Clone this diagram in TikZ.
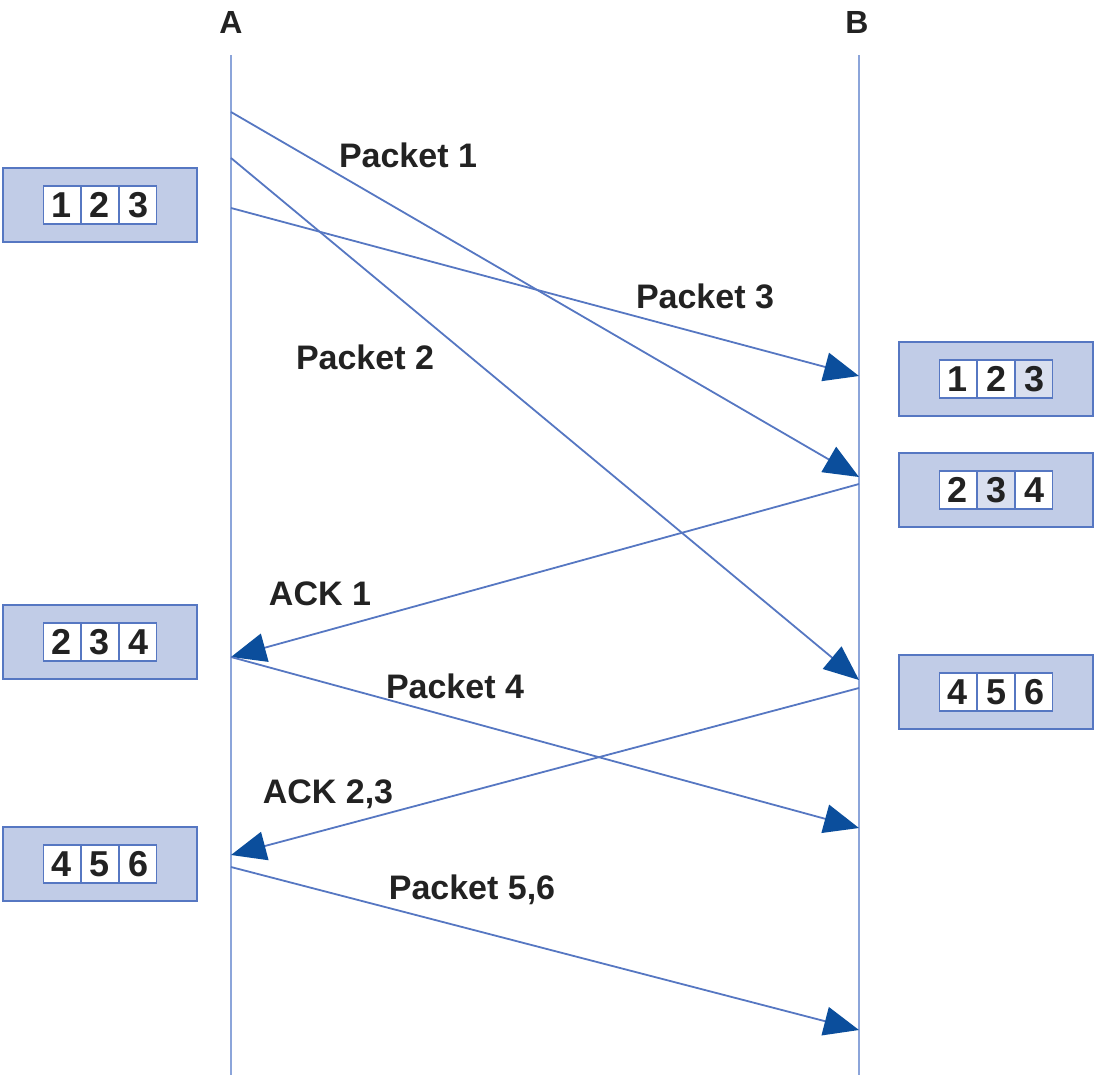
\documentclass[tikz,border=0pt]{standalone}
\usepackage{fontspec}
\setmainfont{Liberation Sans}
\usetikzlibrary{arrows.meta}
\definecolor{lineblue}{HTML}{5677C2}
\definecolor{lifeblue}{HTML}{8CA5DA}
\definecolor{tipblue}{HTML}{0B4E9C}
\definecolor{boxfill}{HTML}{C1CCE7}
\definecolor{cellshade}{HTML}{D9DFEF}
\definecolor{txt}{HTML}{222222}
\tikzset{
  lifeline/.style={draw=lifeblue, line width=2.6pt},
  msg/.style={draw=lineblue, line width=1.8pt, -{Triangle[length=35pt,width=29pt,color=tipblue]}},
  lbl/.style={font=\fontsize{34}{34}\selectfont\bfseries, text=txt},
  hdr/.style={font=\fontsize{32}{32}\selectfont\bfseries, text=txt},
  outerbox/.style={draw=lineblue, line width=1.5pt, fill=boxfill, minimum width=194pt, minimum height=74pt, inner sep=0pt},
  cell/.style={draw=lineblue, line width=1.3pt, fill=white, minimum width=37pt, minimum height=38pt, inner sep=0pt, font=\fontsize{36}{36}\selectfont\bfseries, text=txt},
  shcell/.style={cell, fill=cellshade}
}
\newcommand{\buf}[6]{%
  \node[outerbox] (#1) at (#2) {};
  \node[#6] (#1c2) at (#1) {#4};
  \node[cell, anchor=east] (#1c1) at (#1c2.west) {#3};
  \node[cell, anchor=west] (#1c3) at (#1c2.east) {#5};
}
\newcommand{\bufthird}[6]{%
  \node[outerbox] (#1) at (#2) {};
  \node[cell] (#1c2) at (#1) {#4};
  \node[cell, anchor=east] (#1c1) at (#1c2.west) {#3};
  \node[#6, anchor=west] (#1c3) at (#1c2.east) {#5};
}
\begin{document}
\begin{tikzpicture}[x=1pt,y=-1pt]
\useasboundingbox (0,0) rectangle (1095,1077);
% headers
\node[hdr] (A) at (231,22) {A};
\node[hdr] (B) at (857,22) {B};
% lifelines
\coordinate (At) at (231,55);
\coordinate (Ab) at (231,1075);
\coordinate (Bt) at (859,55);
\coordinate (Bb) at (859,1075);
\draw[lifeline] (At) -- (Ab);
\draw[lifeline] (Bt) -- (Bb);
% endpoints
\coordinate (a1) at (231,112);
\coordinate (a2) at (231,158);
\coordinate (a3) at (231,208);
\coordinate (a4) at (231,657);
\coordinate (a5) at (231,855);
\coordinate (a6) at (231,867);
\coordinate (b3) at (859,376);
\coordinate (b1) at (859,477);
\coordinate (b1s) at (859,484);
\coordinate (b2) at (859,680);
\coordinate (b2s) at (859,688);
\coordinate (b4) at (859,828);
\coordinate (b56) at (859,1030);
% buffers
\buf{L1}{100,205}{1}{2}{3}{cell}
\buf{L2}{100,642}{2}{3}{4}{cell}
\buf{L3}{100,864}{4}{5}{6}{cell}
\bufthird{R1}{996,379}{1}{2}{3}{shcell}
\buf{R2}{996,490}{2}{3}{4}{shcell}
\buf{R3}{996,692}{4}{5}{6}{cell}
% messages
\draw[msg] (a1) -- (b1);
\draw[msg] (a2) -- (b2);
\draw[msg] (a3) -- (b3);
\draw[msg] (b1s) -- (a4);
\draw[msg] (a4) -- (b4);
\draw[msg] (b2s) -- (a5);
\draw[msg] (a6) -- (b56);
% labels
\node[lbl] (p1) at (408,155) {Packet 1};
\node[lbl] (p3) at (705,296) {Packet 3};
\node[lbl] (p2) at (365,357) {Packet 2};
\node[lbl] (k1) at (320,594) {ACK 1};
\node[lbl] (p4) at (455,686) {Packet 4};
\node[lbl] (k23) at (328,794) {ACK 2,3};
\node[lbl] (p56) at (472,890) {Packet 5,6};
\end{tikzpicture}
\end{document}
